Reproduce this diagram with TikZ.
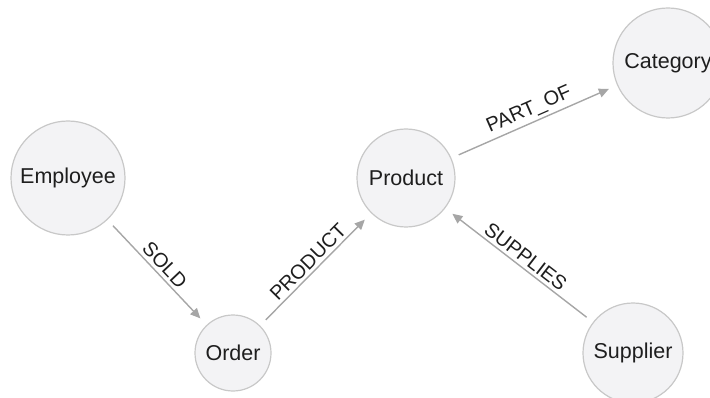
\documentclass[tikz,border=0pt]{standalone}
\usepackage{fontspec}
\setmainfont{Liberation Sans}
\usetikzlibrary{arrows.meta}

\definecolor{nodefill}{HTML}{F3F3F5}
\definecolor{nodeline}{HTML}{C8C8C8}
\definecolor{relline}{HTML}{A6A6A6}
\definecolor{labeltext}{HTML}{1E1E1E}

\begin{document}
\begin{tikzpicture}[x=1pt, y=-1pt,
  entity/.style={circle, draw=nodeline, line width=1.2pt, fill=nodefill,
    inner sep=0pt, text=labeltext, font=\fontsize{21.5}{25}\selectfont},
  rel/.style={draw=relline, line width=1.4pt,
    -{Triangle[length=10pt,width=9pt]}, shorten <=8pt, shorten >=9pt},
  rellabel/.style={sloped, above, inner sep=3pt, text=labeltext,
    font=\fontsize{20}{24}\selectfont}]

\useasboundingbox (0,0) rectangle (710,398);
\clip (0,0) rectangle (710,398);

% entity nodes
\node[entity, minimum size=114pt] (employee) at (68,178) {Employee};
\node[entity, minimum size=76pt]  (order)    at (233,353) {Order};
\node[entity, minimum size=98pt]  (product)  at (406,178) {Product};
\node[entity, minimum size=110pt] (category) at (668,63) {Category};
\node[entity, minimum size=100pt] (supplier) at (633,353) {Supplier};

% relationships
\draw[rel] (employee) -- node[rellabel] {SOLD} (order);
\draw[rel] (order) -- node[rellabel] {PRODUCT} (product);
\draw[rel] (product) -- node[rellabel] {PART\_OF} (category);
\draw[rel] (supplier) -- node[rellabel] {SUPPLIES} (product);

\end{tikzpicture}
\end{document}
